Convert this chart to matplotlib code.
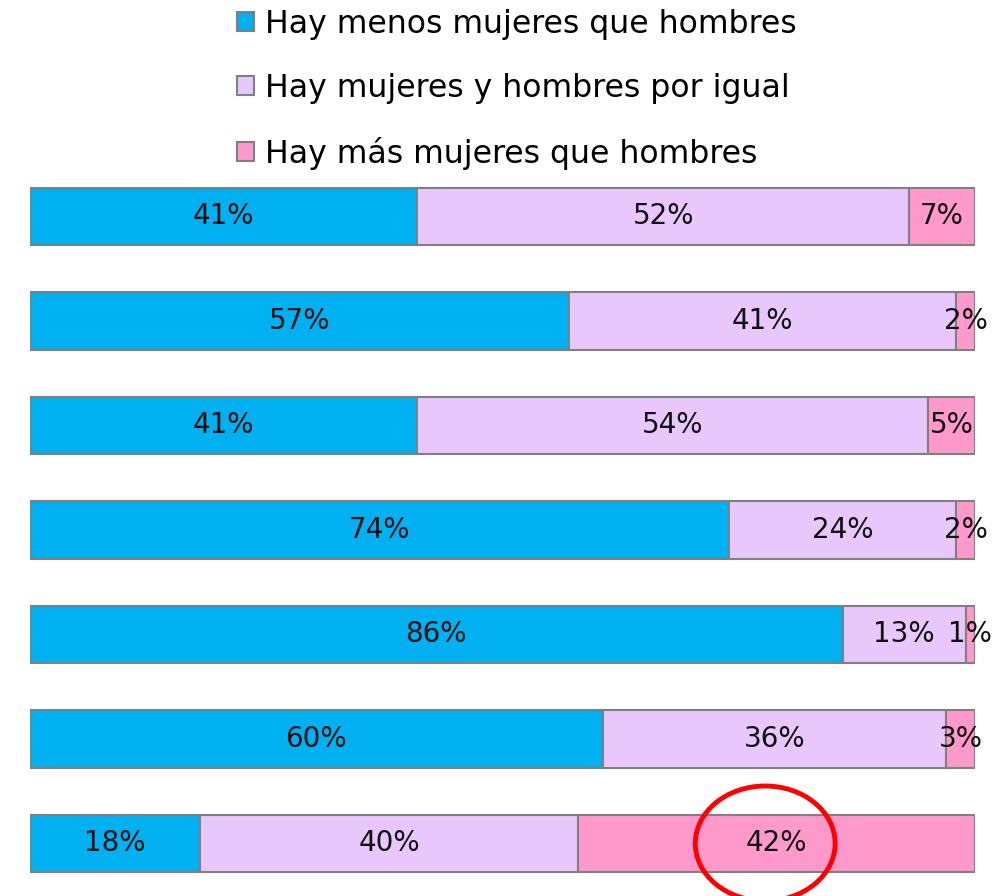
import matplotlib.pyplot as plt
from matplotlib.patches import Ellipse
import numpy as np

# data
labels = ["Hay menos mujeres que hombres",
          "Hay mujeres y hombres por igual",
          "Hay más mujeres que hombres"]
menos = [41, 57, 41, 74, 86, 60, 18]
igual = [52, 41, 54, 24, 13, 36, 40]
mas = [7, 2, 5, 2, 1, 3, 42]
colors = ["#00B0F0", "#E8C8FC", "#FF99CC"]

plt.rcParams['font.family'] = ['DejaVu Sans']

fig = plt.figure(figsize=(9.96, 8.96), dpi=100)
ax = fig.add_axes([30 / 996, 0.0003, 945 / 996, 0.8164])

# rows are drawn as 100% bars (rounded labels may not sum to exactly 100)
tot = np.array(menos) + np.array(igual) + np.array(mas)
y = np.arange(len(menos))
left = np.zeros(len(menos))
for vals, lab, col in zip([menos, igual, mas], labels, colors):
    w = np.array(vals) / tot * 100
    ax.barh(y, w, left=left, height=0.546, color=col,
            edgecolor="#808080", linewidth=1.5, label=lab)
    for yi, l, wi, v in zip(y, left, w, vals):
        ax.text(l + wi / 2, yi, f"{v}%", ha="center", va="center",
                fontsize=20, color="#111111")
    left += w

ax.set_xlim(0, 100)
ax.set_ylim(6.5, -0.5)
ax.axis("off")

# red circle around the last label
ell = Ellipse((77.8, 6.0), 14.8, 1.1, fill=False, edgecolor="red",
              linewidth=3.5, clip_on=False)
ax.add_patch(ell)

handles, labs = ax.get_legend_handles_labels()
fig.legend(handles, labs, loc="upper left", bbox_to_anchor=(224 / 996, 1.0045),
           frameon=False, fontsize=22.7, handlelength=0.55, handleheight=0.55,
           handletextpad=0.35, labelspacing=1.05, borderaxespad=0)

fig.savefig("out.png", dpi=100)
